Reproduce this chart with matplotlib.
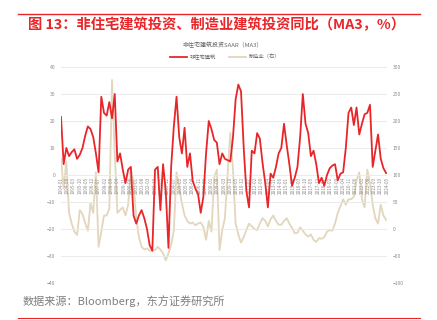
import matplotlib
matplotlib.use("Agg")
import matplotlib.pyplot as plt
import pandas as pd

plt.rcParams['font.family'] = ['Noto Sans CJK SC', 'DejaVu Sans']

# quarterly, 1994Q1 - 2024Q2
dates = pd.date_range('1994-01-01', periods=122, freq='QS')

# 非住宅建筑投资 (left axis, %)
nonres = [21.5, 4, 10, 7, 8.5, 9.5, 6, 7.5, 10, 14.5,
          18, 17, 14, 8, 1, 29, 23, 22, 27, 21,
          30, 5, 8, 2, -3, 2, 3, -15, -18, -15,
          -13, -16, -20, -26, -28, 2, 3, -13, 4, -6,
          -27, 3, 18, 29, 14, 8, 17.5, 3, 8, -2,
          -5, -7, -14, -8, 8, 20, 17, 13, 12, 4,
          8, 6, 5.5, 5, 14, 28, 33.5, 31, 10, -6,
          -12, 9, 8, 15.5, 13.5, 4.5, -3, -12, 0.5, -1,
          3, 8, 10, 19, 11, 4, -4, -1, 3, 14,
          30, 19, 15.5, 7, 9, 4, -3, -1, -4, 0,
          2.5, 3.5, 4, -2, 0.5, 1, 10, 23, 25, 18.5,
          25, 15, 19, 22.5, 23, 26, 3, 9, 15, 6,
          2.5, 0.7]

# 制造业（右） (right axis, %)
manuf = [130, 75, 125, 30, 10, -5, -11, 35, 28, 11,
         -3, 48, 30, 105, -33, -5, 25, 25, 38, 276,
         140, 30, 35, 40, 25, 45, 110, 85, 20, -14,
         -33, -38, -36, -40, -41, -39, -33, -38, -45, -58,
         -45, -30, -2, 105, 75, 48, 25, 15, 10, 12,
         7, 10, 12, 4, -20, 15, -5, 95, 110, -39,
         -2, 20, 100, 178, 110, 10, -10, -25, -15, -2,
         10, 5, 0, -2, 10, 20, 15, 5, 18, 25,
         15, 8, 8, 15, 20, 10, 2, -8, -7, 3,
         -3, -10, -14, -10, -20, -24, -17, -18, -15, -5,
         -2, -3, 10, 30, 42, 55, 45, 55, 55, 60,
         90, 105, 55, 40, 110, 85, 45, 20, 10, 45,
         25, 17]

red = '#E8262A'
beige = '#E2D6BC'
gray = '#8c8c8c'

fig = plt.figure(figsize=(4.37, 3.2), dpi=100)
ax = fig.add_axes([0.1396, 0.1156, 0.746, 0.675])
ax2 = ax.twinx()

ax2.plot(dates, manuf, color=beige, lw=1.3, label='制造业（右）')
ax.plot(dates, nonres, color=red, lw=1.3, label='非住宅建筑', zorder=5)
ax.set_zorder(ax2.get_zorder() + 1)
ax.patch.set_visible(False)

ax.set_ylim(-40, 40)
ax.set_yticks(range(-40, 41, 10))
ax2.set_ylim(-100, 300)
ax2.set_yticks(range(-100, 301, 50))
ax.set_xlim(dates[0], dates[-1] + pd.Timedelta(days=10))

ax.grid(axis='y', color='#e8e8e8', lw=0.6)
ax.set_axisbelow(True)

# x axis sits on the zero line
ax.spines['bottom'].set_position(('data', 0))
for a in (ax, ax2):
    for s in a.spines.values():
        s.set_visible(False)

ticks = pd.date_range('1994-01-01', '2024-06-01', freq='7MS')
ax.set_xticks(ticks)
ax.set_xticklabels([t.strftime('%Y-%m') for t in ticks], rotation=90,
                   fontsize=3.3, color=gray, va='top')
ax2.tick_params(axis='x', labelbottom=False, bottom=False)
ax.tick_params(axis='x', length=0, pad=1.5)
ax.tick_params(axis='y', length=0, labelsize=3.6, labelcolor=gray, pad=4)
ax2.tick_params(axis='y', length=0, labelsize=3.6, labelcolor=gray, pad=4)

fig.text(223 / 437, 1 - 45 / 320, '非住宅建筑投资SAAR（MA3）', fontsize=4.3,
         color='#666666', ha='center', va='center')
h1, l1 = ax.get_legend_handles_labels()
h2, l2 = ax2.get_legend_handles_labels()
fig.legend(h1 + h2, l1 + l2, loc='center', bbox_to_anchor=(225 / 437, 1 - 57 / 320),
           ncol=2, frameon=False, fontsize=3.8, handlelength=3.2,
           columnspacing=2.5, handletextpad=0.5, labelcolor='#666666')

# header / footer
fig.add_artist(plt.Line2D([18 / 437, 420 / 437], [1 - 14.3 / 320] * 2,
                          color=red, lw=1.0))
fig.text(28 / 437, 1 - 25 / 320, '图 13：非住宅建筑投资、制造业建筑投资同比（MA3，%）',
         fontsize=10.3, fontweight='bold', color=red, va='center')
fig.text(23 / 437, 1 - 301.5 / 320, '数据来源：Bloomberg，东方证券研究所',
         fontsize=8, color='#7f7f7f', va='center')
fig.add_artist(plt.Line2D([18 / 437, 420 / 437], [1 - 318 / 320] * 2,
                          color=red, lw=0.8))

fig.savefig('out.png', dpi=100)
